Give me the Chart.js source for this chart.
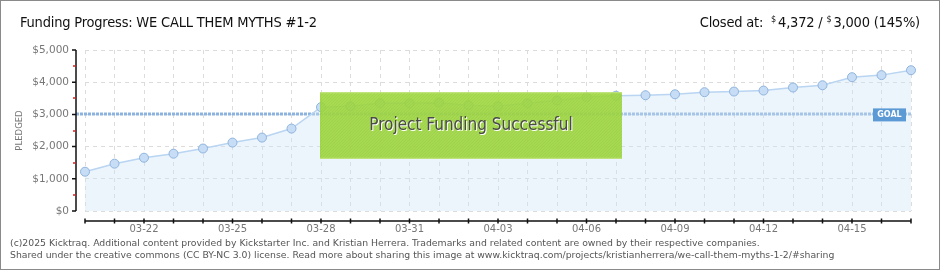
<!DOCTYPE html>
<html>
<head>
<meta charset="utf-8">
<script src="https://cdn.jsdelivr.net/npm/chart.js@4"></script>
<style>
  html, body { margin: 0; padding: 0; background: #fff; }
  #wrap { position: relative; width: 940px; height: 270px; box-sizing: border-box; border: 1px solid #8a8a8a; overflow: hidden; }
  #chart { position: absolute; left: 0; top: 0; }
  .title { position: absolute; top: 13px; font-family: "DejaVu Sans Condensed", "DejaVu Sans", sans-serif; font-size: 14.5px; letter-spacing: -0.2px; color: #111; white-space: nowrap; }
  .title sup { font-size: 9px; vertical-align: 5px; margin-right: 2px; }
  #footer { position: absolute; left: 9px; top: 236px; font-family: "DejaVu Sans", sans-serif; font-size: 9.3px; line-height: 12px; color: #555; white-space: nowrap; }
</style>
</head>
<body>
<div id="wrap">
  <canvas id="chart" width="938" height="268"></canvas>
  <div class="title" style="left:19px">Funding Progress: WE CALL THEM MYTHS #1-2</div>
  <div class="title" style="right:19px">Closed at:&nbsp; <sup>$</sup>4,372 / <sup>$</sup>3,000 (145%)</div>
  <div id="footer">(c)2025 Kicktraq. Additional content provided by Kickstarter Inc. and Kristian Herrera. Trademarks and related content are owned by their respective companies.<br>Shared under the creative commons (CC BY-NC 3.0) license. Read more about sharing this image at www.kicktraq.com/projects/kristianherrera/we-call-them-myths-1-2/#sharing</div>
</div>
<script>
const dates = ['03-20','03-21','03-22','03-23','03-24','03-25','03-26','03-27','03-28','03-29',
  '03-30','03-31','04-01','04-02','04-03','04-04','04-05','04-06','04-07','04-08',
  '04-09','04-10','04-11','04-12','04-13','04-14','04-15','04-16','04-17'];
const pledged = [1220,1470,1655,1780,1940,2125,2280,2560,3225,3250,
  3345,3345,3365,3280,3250,3345,3430,3530,3580,3595,
  3625,3690,3710,3740,3835,3905,4155,4220,4372];
const goal = 3000;
const yTicks = [0,1000,2000,3000,4000,5000];
const fundedOn = '03-28';
const bannerText = 'Project Funding Successful';

// goal line and its label
const goalPlugin = {
  id: 'goal',
  beforeDatasetsDraw(chart) {
    const {ctx, chartArea, scales} = chart;
    const y = Math.round(scales.y.getPixelForValue(goal));
    ctx.save();
    ctx.strokeStyle = '#8cb3df';
    ctx.lineWidth = 3;
    ctx.setLineDash([3, 1]);
    ctx.beginPath();
    ctx.moveTo(chartArea.left - 9, y);
    ctx.lineTo(chartArea.right, y);
    ctx.stroke();
    ctx.restore();
  },
  afterDatasetsDraw(chart) {
    const {ctx, chartArea, scales} = chart;
    const y = scales.y.getPixelForValue(goal);
    ctx.save();
    ctx.fillStyle = '#5c9ad6';
    ctx.fillRect(chartArea.right - 38, y - 6, 33, 13);
    ctx.fillStyle = '#fff';
    ctx.font = 'bold 8px "DejaVu Sans"';
    ctx.textAlign = 'center';
    ctx.textBaseline = 'middle';
    ctx.fillText('GOAL', chartArea.right - 21.5, y + 0.5);
    ctx.restore();
  }
};

// own axis lines, set a little away from the plot like the original
const axesPlugin = {
  id: 'axes',
  afterDraw(chart) {
    const {ctx, chartArea, scales} = chart;
    const ax = chartArea.left - 9;
    const ay = chartArea.bottom + 10;
    ctx.save();
    ctx.strokeStyle = '#111';
    ctx.lineWidth = 1.5;
    ctx.beginPath();
    ctx.moveTo(ax, chartArea.top);
    ctx.lineTo(ax, chartArea.bottom);
    yTicks.forEach(v => {
      const y = scales.y.getPixelForValue(v);
      ctx.moveTo(ax - 4, y);
      ctx.lineTo(ax, y);
    });
    ctx.moveTo(chartArea.left, ay);
    ctx.lineTo(chartArea.right, ay);
    dates.forEach((d, i) => {
      const x = scales.x.getPixelForValue(i);
      ctx.moveTo(x, ay - 2.5);
      ctx.lineTo(x, ay + 2.5);
    });
    ctx.stroke();
    ctx.strokeStyle = '#e02020';
    ctx.lineWidth = 1.5;
    ctx.beginPath();
    for (let i = 0; i < yTicks.length - 1; i++) {
      const y = Math.round(scales.y.getPixelForValue((yTicks[i] + yTicks[i + 1]) / 2));
      ctx.moveTo(ax - 3, y);
      ctx.lineTo(ax - 0.5, y);
    }
    ctx.stroke();
    ctx.restore();
  }
};

// green "funded" banner
const bannerPlugin = {
  id: 'banner',
  afterDatasetsDraw(chart) {
    const {ctx, scales} = chart;
    const i0 = dates.indexOf(fundedOn);
    const x1 = scales.x.getPixelForValue(i0) - 1;
    const x2 = scales.x.getPixelForValue(i0 + 10.2);
    const y1 = scales.y.getPixelForValue(3690);
    const y2 = scales.y.getPixelForValue(1620);
    ctx.save();
    ctx.fillStyle = 'rgba(158,214,62,0.88)';
    ctx.fillRect(x1, y1, x2 - x1, y2 - y1);
    ctx.beginPath();
    ctx.rect(x1, y1, x2 - x1, y2 - y1);
    ctx.clip();
    ctx.strokeStyle = 'rgba(140,200,50,0.35)';
    ctx.lineWidth = 1;
    for (let k = x1 - 80; k < x2; k += 3) {
      ctx.moveTo(k, y2);
      ctx.lineTo(k + (y2 - y1), y1);
    }
    ctx.stroke();
    ctx.fillStyle = '#cde88f';
    ctx.fillRect(x1, y1, x2 - x1, 1);
    ctx.fillRect(x1, y2 - 1, x2 - x1, 1);
    ctx.font = '17px "DejaVu Sans Condensed", "DejaVu Sans"';
    ctx.textAlign = 'center';
    ctx.textBaseline = 'middle';
    const cx = (x1 + x2) / 2, cy = (y1 + y2) / 2;
    ctx.fillStyle = '#ffffff';
    ctx.fillText(bannerText, cx + 1, cy + 1);
    ctx.fillStyle = '#4a4a4a';
    ctx.fillText(bannerText, cx, cy);
    ctx.restore();
  }
};

new Chart(document.getElementById('chart'), {
  type: 'line',
  data: {
    labels: dates,
    datasets: [{
      data: pledged,
      borderColor: '#b9d5f2',
      borderWidth: 1.5,
      backgroundColor: 'rgba(205,225,248,0.38)',
      fill: 'origin',
      tension: 0,
      pointRadius: 4.5,
      pointBackgroundColor: '#c7ddf6',
      pointBorderColor: '#8fb3dc',
      pointBorderWidth: 1
    }]
  },
  options: {
    responsive: false,
    animation: false,
    layout: { padding: { left: 0, right: 28, top: 49, bottom: 0 } },
    plugins: { legend: { display: false }, tooltip: { enabled: false } },
    scales: {
      x: {
        type: 'category',
        offset: false,
        afterFit: s => { s.height = 58; },
        border: { display: false, dash: [4, 4] },
        grid: { color: '#dcdcdc', drawTicks: false },
        ticks: {
          autoSkip: false,
          maxRotation: 0,
          padding: 12,
          color: '#777',
          font: { family: '"DejaVu Sans"', size: 10 },
          callback: (v, i) => ((i - 2) % 3 === 0 ? dates[i] : '')
        }
      },
      y: {
        min: 0,
        max: 5000,
        afterFit: s => { s.width = 84; },
        afterBuildTicks: s => { s.ticks = yTicks.map(v => ({ value: v })); },
        border: { display: false, dash: [4, 4] },
        grid: { color: '#dcdcdc', drawTicks: false },
        ticks: {
          padding: 16,
          color: '#777',
          font: { family: '"DejaVu Sans"', size: 10.5 },
          callback: v => '$' + v.toLocaleString('en-US')
        },
        title: {
          display: true,
          text: 'PLEDGED',
          color: '#777',
          font: { family: '"DejaVu Sans"', size: 8.5 },
          padding: { top: 14, bottom: 0 }
        }
      }
    }
  },
  plugins: [goalPlugin, bannerPlugin, axesPlugin]
});
</script>
</body>
</html>
